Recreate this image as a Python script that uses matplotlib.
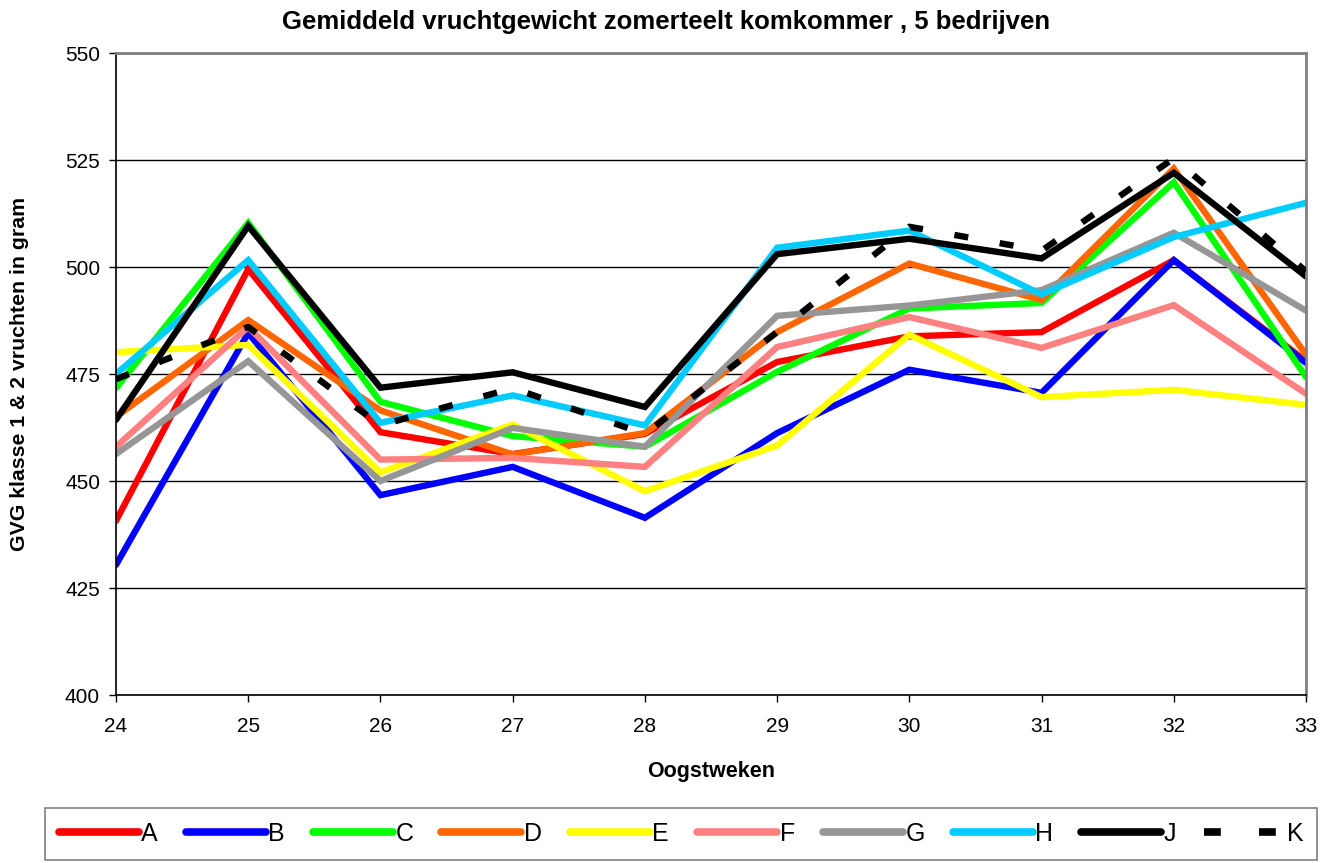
import matplotlib
matplotlib.use("Agg")
import matplotlib.pyplot as plt

plt.rcParams['font.family'] = ['Liberation Sans', 'DejaVu Sans']

weeks = [24, 25, 26, 27, 28, 29, 30, 31, 32, 33]
A = [440.7, 499.5, 461.4, 456.3, 461.0, 477.8, 483.8, 484.8, 501.6, 478.0]
B = [430.4, 484.6, 446.7, 453.3, 441.4, 461.2, 476.0, 470.6, 501.6, 477.6]
C = [471.7, 510.3, 468.5, 460.5, 458.0, 475.5, 490.3, 491.6, 519.8, 474.3]
D = [465.0, 487.6, 466.5, 456.2, 461.2, 484.8, 500.8, 492.3, 523.0, 479.5]
E = [480.1, 481.8, 452.0, 463.2, 447.6, 458.3, 484.2, 469.6, 471.3, 467.8]
F = [458.0, 486.0, 455.0, 455.4, 453.3, 481.3, 488.3, 481.1, 491.1, 470.4]
G = [456.3, 478.0, 450.0, 462.4, 458.0, 488.6, 491.0, 494.6, 508.0, 489.8]
H = [475.0, 501.6, 463.6, 470.0, 463.0, 504.5, 508.5, 493.6, 507.0, 515.0]
J = [464.3, 509.6, 471.8, 475.4, 467.3, 503.0, 506.6, 502.0, 522.0, 497.8]
K = [473.8, 486.0, 463.0, 471.7, 461.0, 484.8, 509.4, 503.8, 525.4, 499.0]

labels = ['A', 'B', 'C', 'D', 'E', 'F', 'G', 'H', 'J', 'K']
series = [A, B, C, D, E, F, G, H, J, K]
colors = ['#FF0000', '#0000FF', '#00FF00', '#FF6600', '#FFFF00',
          '#FF8080', '#969696', '#00CCFF', '#000000', '#000000']

fig = plt.figure(figsize=(13.32, 8.63), dpi=100)
ax = fig.add_axes([116/1332, 1-695/863, (1306-116)/1332, (695-53)/863])

for lab, vals, col in zip(labels, series, colors):
    if lab == 'K':
        ax.plot(weeks, vals, color=col, lw=4.6, ls=(0, (2.2, 5.0)),
                solid_capstyle='butt', dash_capstyle='butt', label=lab, zorder=3)
    else:
        ax.plot(weeks, vals, color=col, lw=4.6, label=lab, zorder=2,
                solid_joinstyle='miter', solid_capstyle='round')

ax.set_xlim(24, 33)
ax.set_ylim(400, 550)
ax.set_xticks(weeks)
ax.set_yticks([400, 425, 450, 475, 500, 525, 550])
ax.yaxis.grid(True, color='black', lw=1)
ax.set_axisbelow(True)
ax.tick_params(axis='both', labelsize=15, direction='out', length=5, width=1)
ax.tick_params(axis='x', pad=11)
ax.tick_params(axis='y', pad=6.5)
for s in ['top', 'right']:
    ax.spines[s].set_color('#808080')
    ax.spines[s].set_linewidth(2)
for s in ['left', 'bottom']:
    ax.spines[s].set_color('black')
    ax.spines[s].set_linewidth(1.2)

fig.suptitle('Gemiddeld vruchtgewicht zomerteelt komkommer , 5 bedrijven',
             x=666/1332, y=1-22/863, va='center',
             fontsize=18.5, fontweight='bold')
ax.set_xlabel('Oogstweken', fontsize=15.5, fontweight='bold', labelpad=18)
ax.set_ylabel('GVG klasse 1 & 2 vruchten in gram', fontsize=15.3, fontweight='bold', labelpad=26)

leg = fig.legend(loc='center', bbox_to_anchor=(681/1332, 1-834/863), ncol=10,
                 fontsize=18, frameon=True, fancybox=False, edgecolor='#606060',
                 handlelength=3.2, handletextpad=0.1, columnspacing=1.12,
                 borderpad=0.55, borderaxespad=0)
leg.get_frame().set_linewidth(1.2)
for h in leg.get_lines():
    h.set_linewidth(5.5)
    h.set_solid_capstyle('round')

fig.savefig('out.png', dpi=100)
